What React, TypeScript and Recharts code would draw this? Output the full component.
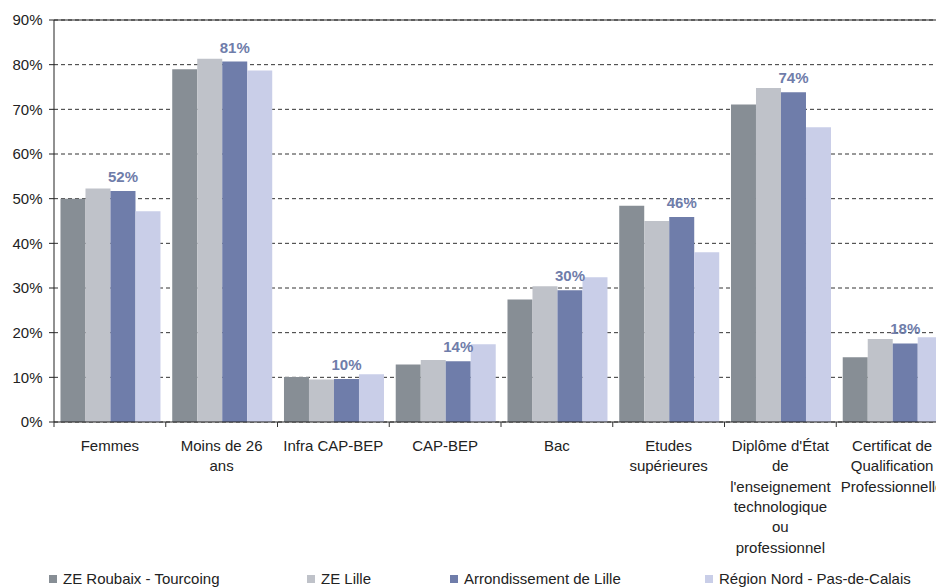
import { BarChart, Bar, XAxis, YAxis, CartesianGrid, ReferenceLine, LabelList } from "recharts";

// Category labels, split where the reference wraps them.
const categories = [
  "Femmes",
  "Moins de 26\nans",
  "Infra CAP-BEP",
  "CAP-BEP",
  "Bac",
  "Etudes\nsupérieures",
  "Diplôme d'État\nde\nl'enseignement\ntechnologique\nou\nprofessionnel",
  "Certificat de\nQualification\nProfessionnelle",
];

const roubaix = [50.0, 79.0, 10.1, 12.9, 27.4, 48.4, 71.1, 14.5];
const zeLille = [52.3, 81.3, 9.5, 13.9, 30.4, 45.0, 74.8, 18.6];
const arrondissement = [51.7, 80.7, 9.6, 13.6, 29.5, 45.9, 73.8, 17.6];
const region = [47.2, 78.7, 10.7, 17.4, 32.4, 38.0, 66.0, 19.0];

const yTicks = [0, 10, 20, 30, 40, 50, 60, 70, 80, 90];

const seriesNames = [
  "ZE Roubaix - Tourcoing",
  "ZE Lille",
  "Arrondissement de Lille",
  "Région Nord - Pas-de-Calais",
];
const seriesColors = ["#878e95", "#bfc2c9", "#6f7daa", "#c9cee8"];

const data = categories.map((label, i) => ({
  label,
  roubaix: roubaix[i],
  zeLille: zeLille[i],
  arrondissement: arrondissement[i],
  region: region[i],
}));

const FONT = "'Liberation Sans', Arial, sans-serif";
const BAND = 894 / categories.length;

function CategoryTick(props: any) {
  const { x, y, payload } = props;
  const lines = String(payload.value).split("\n");
  return (
    <g>
      <line x1={x - BAND / 2} x2={x - BAND / 2} y1={y} y2={y + 5} stroke="#333" />
      <text x={x} y={y} textAnchor="middle" fontSize={15} fill="#222" fontFamily={FONT}>
        {lines.map((l, i) => (
          <tspan key={i} x={x} dy={i === 0 ? 29 : 20.3}>
            {l}
          </tspan>
        ))}
      </text>
    </g>
  );
}

const legendWidths = [258, 143, 255, 220];

export default function App() {
  const keys = ["roubaix", "zeLille", "arrondissement", "region"];
  return (
    <div
      style={{
        position: "absolute",
        left: 0,
        top: 0,
        width: 936,
        height: 588,
        overflow: "hidden",
        background: "#fff",
        fontFamily: FONT,
      }}
    >
      <BarChart
        width={960}
        height={562}
        data={data}
        margin={{ top: 20, right: 12, bottom: 0, left: 0 }}
        barCategoryGap="5.8%"
        barGap={0}
      >
        <CartesianGrid
          vertical={false}
          stroke="#333"
          strokeDasharray="4 3"
        />
        <ReferenceLine y={90} stroke="#222" strokeWidth={1.2} />
        <XAxis
          dataKey="label"
          interval={0}
          height={140}
          tickLine={false}
          tickSize={0}
          tickMargin={0}
          axisLine={{ stroke: "#222" }}
          tick={<CategoryTick />}
        />
        <YAxis
          width={54}
          domain={[0, 90]}
          ticks={yTicks}
          tickFormatter={(v) => `${v}%`}
          tickSize={5}
          tickMargin={6.5}
          axisLine={{ stroke: "#222" }}
          tickLine={{ stroke: "#222" }}
          tick={{ fontSize: 15, fill: "#222", fontFamily: FONT }}
        />
        {keys.map((k, i) => (
          <Bar key={k} dataKey={k} fill={seriesColors[i]} isAnimationActive={false}>
            {k === "arrondissement" && (
              <LabelList
                dataKey={k}
                position="top"
                offset={9}
                formatter={(v: any) => `${Math.round(Number(v))}%`}
                fill="#6f7daa"
                fontSize={15}
                fontWeight="bold"
                fontFamily={FONT}
              />
            )}
          </Bar>
        ))}
      </BarChart>
      <div
        style={{
          position: "absolute",
          left: 49,
          top: 570,
          display: "flex",
          fontSize: 15,
          color: "#222",
          lineHeight: "18px",
        }}
      >
        {seriesNames.map((n, i) => (
          <div key={n} style={{ width: legendWidths[i], display: "flex", alignItems: "center", whiteSpace: "nowrap" }}>
            <span style={{ width: 8, height: 8, background: seriesColors[i], marginRight: 6, display: "inline-block" }} />
            {n}
          </div>
        ))}
      </div>
    </div>
  );
}
